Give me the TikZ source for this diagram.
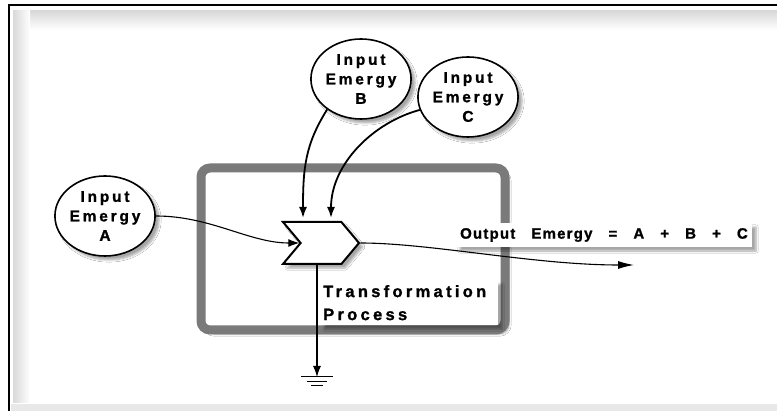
\documentclass[tikz,border=0pt]{standalone}
\usepackage{fontspec}
\setmainfont{Liberation Sans}
\newfontfamily\lblfont{Liberation Sans Bold}[LetterSpace=18,FakeBold=1.2]
\newfontfamily\procfont{Liberation Sans Bold}[LetterSpace=20,FakeBold=1.2]
\newfontfamily\outfont{Liberation Sans Bold}[LetterSpace=8,WordSpace=3,FakeBold=1.2]
\usetikzlibrary{arrows.meta,positioning,shapes.geometric,shapes.symbols,shadows.blur}

\tikzset{
  softshadow/.style={blur shadow={shadow xshift=4pt,shadow yshift=-4pt,shadow opacity=35,shadow blur steps=6}},
  inbox/.style={ellipse,draw,line width=1.6pt,fill=white,minimum width=94pt,minimum height=80pt,inner sep=0pt,align=center,font=\lblfont\fontsize{15.5}{19.5}\selectfont,softshadow},
  procframe/.style={draw=black!52,fill=white,line width=9pt,rounded corners=9pt,minimum width=304pt,minimum height=162pt,inner sep=0pt,softshadow},
  chevron/.style={signal,signal to=east,signal from=west,signal pointer angle=100,draw,line width=2pt,fill=white,minimum width=76pt,minimum height=42pt,inner sep=0pt,softshadow},
  labelbox/.style={fill=white,inner sep=3pt,softshadow},
  inflow/.style={-{Latex[length=11pt,width=8pt]},line width=1.1pt},
  heavyflow/.style={-{Latex[length=11pt,width=8pt]},line width=1.8pt},
  outflow/.style={-{Latex[length=16pt,width=8pt]},line width=1.1pt}
}

\begin{document}
\begin{tikzpicture}[x=1pt,y=-1pt]
% page and frame
\useasboundingbox (0,0) rectangle (777,411);
\fill[white] (0,0) rectangle (777,411);
\shade[top color=black!15,bottom color=white] (13,11) rectangle (777,30);
\shade[left color=black!15,right color=white] (13,11) rectangle (30,403);
\fill[black!9] (11,404) rectangle (777,411);
\draw[line width=2.5pt] (9,411) -- (9,5) -- (777,5);

% process
\node[procframe] (proc) at (353,249) {};
\node[chevron] (chev) at (321,243) {};
\node[labelbox,anchor=north west,minimum width=178pt,minimum height=45pt,align=left,text width=172pt,font=\procfont\fontsize{16.5}{23}\selectfont] (tlab) at (320,280) {Transformation\\Process};

% inputs
\node[inbox] (inA) at (105,216) {Input\\Emergy\\A};
\node[inbox,minimum width=90pt] (inB) at (361,79) {Input\\Emergy\\B};
\node[inbox] (inC) at (468,97) {Input\\Emergy\\C};

% output
\node[labelbox,minimum width=296pt,minimum height=24pt,inner sep=0pt,font=\outfont\fontsize{15}{18}\selectfont] (olab) at (604,235) {Output Emergy = A + B + C};
\coordinate (outEnd) at (634,265);
\coordinate (gnd) at (317,377);

\draw[inflow] (inA.east) .. controls +(55,0) and +(-50,0) .. (chev.west);
\draw[heavyflow] (inB.222) .. controls +(-22,35) and +(0,-50) .. ([xshift=-18pt,yshift=3pt]chev.north);
\draw[heavyflow] (inC.195) .. controls +(-45,12) and +(0,-55) .. ([xshift=10pt,yshift=3pt]chev.north);
\draw[outflow] (chev.east) .. controls +(70,0) and +(-100,0) .. (outEnd);
\draw[inflow] ([xshift=-4pt]chev.south) -- (gnd);

% ground
\draw[line width=1pt] ([xshift=-16pt]gnd) -- ([xshift=16pt]gnd);
\draw[line width=1pt] ([xshift=-10pt,yshift=-5pt]gnd) -- ([xshift=10pt,yshift=-5pt]gnd);
\draw[line width=1pt] ([xshift=-6pt,yshift=-9pt]gnd) -- ([xshift=6pt,yshift=-9pt]gnd);
\end{tikzpicture}
\end{document}
